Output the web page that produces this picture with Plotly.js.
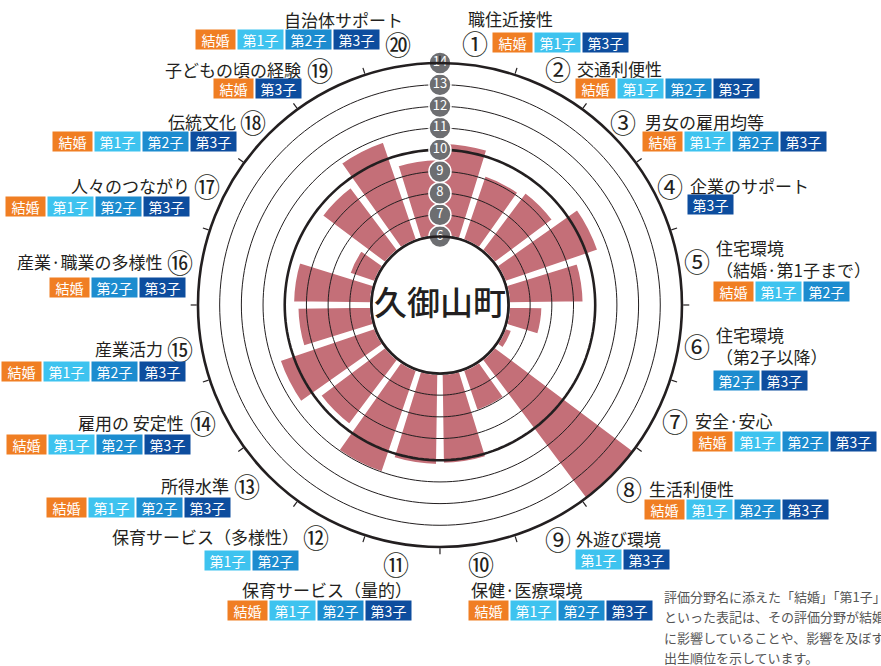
<!DOCTYPE html>
<html>
<head>
<meta charset="utf-8">
<script src="https://cdn.plot.ly/plotly-3.0.1.min.js"></script>
<style>body{margin:0;background:#fff}#chart{width:881px;height:666px}</style>
</head>
<body>
<div id="chart"></div>
<script>
// Evaluation fields around the circle, clockwise from the top
const categories = ['職住近接性', '交通利便性', '男女の雇用均等', '企業のサポート',
  '住宅環境<br>（結婚·第1子まで）', '住宅環境<br>（第2子以降）', '安全·安心', '生活利便性',
  '外遊び環境', '保健·医療環境', '保育サービス（量的）', '保育サービス（多様性）',
  '所得水準', '雇用の 安定性', '産業活力', '産業·職業の多様性',
  '人々のつながり', '伝統文化', '子どもの頃の経験', '自治体サポート'];
const numbers = ['①', '②', '③', '④', '⑤', '⑥', '⑦', '⑧', '⑨', '⑩',
  '⑪', '⑫', '⑬', '⑭', '⑮', '⑯', '⑰', '⑱', '⑲', '⑳'];
const scores = [10.35, 9.2, 9.4, 10.6, 9.5, 7.6, 6.4, 14.1, 8.05, 10.2,
  10.25, 11.05, 9.8, 10.7, 9.45, 9.65, 7.3, 9.7, 10.85, 9.6];
const tags = [
  ['結婚', '第1子', '第3子'],
  ['結婚', '第1子', '第2子', '第3子'],
  ['結婚', '第1子', '第2子', '第3子'],
  ['第3子'],
  ['結婚', '第1子', '第2子'],
  ['第2子', '第3子'],
  ['結婚', '第1子', '第2子', '第3子'],
  ['結婚', '第1子', '第2子', '第3子'],
  ['第1子', '第3子'],
  ['結婚', '第1子', '第2子', '第3子'],
  ['結婚', '第1子', '第2子', '第3子'],
  ['第1子', '第2子'],
  ['結婚', '第1子', '第2子', '第3子'],
  ['結婚', '第1子', '第2子', '第3子'],
  ['結婚', '第1子', '第2子', '第3子'],
  ['結婚', '第2子', '第3子'],
  ['結婚', '第1子', '第2子', '第3子'],
  ['結婚', '第1子', '第2子', '第3子'],
  ['結婚', '第3子'],
  ['結婚', '第1子', '第2子', '第3子'],
];
const radialTicks = [6, 7, 8, 9, 10, 11, 12, 13, 14];
const noteLines = ['評価分野名に添えた「結婚」「第1子」', 'といった表記は、その評価分野が結婚',
  'に影響していることや、影響を及ぼす', '出生順位を示しています。'];
const centerName = '久御山町';

// Label placement in pixels: [numX, numY, nameX, nameY, nameAnchor, tagX, tagY]
const labelPos = [
  [475, 42, 466, 19, 'left', 493, 42],
  [558, 68, 575, 68, 'left', 576, 88],
  [623, 122, 643, 122, 'left', 643, 142],
  [670, 185, 688, 185, 'left', 688, 204],
  [697, 260, 714, 258, 'left', 714, 291],
  [697, 345, 714, 345, 'left', 714, 380],
  [675, 420, 693, 420, 'left', 693, 441],
  [629, 488, 647, 488, 'left', 645, 510],
  [558, 538, 574, 538, 'left', 576, 559],
  [481, 563, 469, 589, 'left', 469, 610],
  [396, 563, 414, 589, 'right', 228, 610],
  [316, 536, 301, 536, 'right', 205, 560],
  [247, 485, 231, 485, 'right', 47, 507],
  [203, 423, 186, 423, 'right', 7, 444],
  [180, 348, 165, 348, 'right', 2, 372],
  [180, 261, 165, 261, 'right', 50, 287],
  [207, 185, 192, 185, 'right', 6, 207],
  [253, 122, 238, 122, 'right', 53, 142],
  [320, 70, 303, 70, 'right', 214, 88],
  [398, 43, 405, 20, 'right', 196, 40],
];

const W = 881, H = 666;
const FONT = '"Noto Sans CJK JP", "Noto Sans", sans-serif';
const INK = '#231f20';
const tagColors = { '結婚': '#f07e23', '第1子': '#3ec3ef', '第2子': '#1c8ccf', '第3子': '#0d4d9e' };
const tagWidth = { '結婚': 39, '第1子': 45, '第2子': 45, '第3子': 45 };
const px = x => x / W;
const py = y => 1 - y / H;

const annotations = [];
categories.forEach((name, i) => {
  const [nx, ny, tx, ty, anchor, gx, gy] = labelPos[i];
  annotations.push({
    text: numbers[i], x: px(nx), y: py(ny), xref: 'paper', yref: 'paper',
    showarrow: false, xanchor: 'center', yanchor: 'middle',
    font: { family: FONT, size: 26, color: INK },
  });
  annotations.push({
    text: name, x: px(tx), y: py(ty), xref: 'paper', yref: 'paper',
    showarrow: false, xanchor: anchor, yanchor: 'middle', align: 'left',
    font: { family: FONT, size: 17, color: INK },
  });
  let left = gx;
  tags[i].forEach(tag => {
    const w = tagWidth[tag];
    annotations.push({
      text: tag, x: px(left + w / 2), y: py(gy), xref: 'paper', yref: 'paper',
      showarrow: false, xanchor: 'center', yanchor: 'middle',
      width: w, height: 19, borderpad: 0, bgcolor: tagColors[tag],
      font: { family: FONT, size: 14, color: '#ffffff' },
    });
    left += w + 3;
  });
});

annotations.push({
  text: centerName, x: px(440), y: py(301), xref: 'paper', yref: 'paper',
  showarrow: false, font: { family: FONT, size: 33, color: INK, weight: 500 },
});

noteLines.forEach((line, k) => {
  annotations.push({
    text: line, x: px(662), y: py(596 + k * 20.5), xref: 'paper', yref: 'paper',
    showarrow: false, xanchor: 'left', yanchor: 'middle',
    font: { family: FONT, size: 13, color: '#555555' },
  });
});

// Circle traces drawn above the bars, like the reference
const ring = [];
for (let a = 0; a <= 360; a += 2) ring.push(a);
function circle(r, width) {
  return {
    type: 'scatterpolar', mode: 'lines', r: ring.map(() => r), theta: ring,
    line: { color: INK, width: width }, hoverinfo: 'skip', cliponaxis: false,
  };
}

const step = 360 / categories.length;
const traces = [
  {
    type: 'barpolar',
    r: scores.map(v => v - radialTicks[0]),
    base: radialTicks[0],
    theta: categories.map((c, i) => (i + 0.5) * step),
    width: step - 1.6,
    marker: { color: '#c46f78', line: { color: '#ffffff', width: 3.5 } },
    hoverinfo: 'skip',
  },
];
radialTicks.forEach(r => {
  if (r === 14) return;
  traces.push(circle(r, (r === 6 || r === 10) ? 2.6 : 1));
});
traces.push({
  type: 'scatterpolar', mode: 'markers+text',
  r: radialTicks, theta: radialTicks.map(() => 0),
  text: radialTicks.map(String), textposition: 'middle center',
  textfont: { family: FONT, size: 13, color: '#ffffff' },
  marker: { size: 22, color: '#6d6e71', line: { color: '#ffffff', width: 1.5 } },
  cliponaxis: false, hoverinfo: 'skip',
});

Plotly.newPlot('chart', traces, {
  width: W, height: H,
  showlegend: false,
  margin: { t: 0, r: 0, b: 0, l: 0 },
  paper_bgcolor: '#ffffff',
  polar: {
    domain: { x: [0.2247, 0.7741], y: [0.1787, 0.9054] },
    hole: 0.283,
    bgcolor: '#ffffff',
    radialaxis: {
      range: [6, 14], showgrid: false, showline: false,
      showticklabels: false, ticks: '',
    },
    angularaxis: {
      rotation: 90, direction: 'clockwise', thetaunit: 'degrees',
      tickmode: 'array', tickvals: categories.map((c, i) => i * step),
      ticks: 'outside', ticklen: 6, tickwidth: 1.2, tickcolor: INK,
      showticklabels: false, showgrid: false,
      showline: true, linewidth: 2.6, linecolor: INK,
    },
  },
  annotations: annotations,
}, { staticPlot: true });
</script>
</body>
</html>
